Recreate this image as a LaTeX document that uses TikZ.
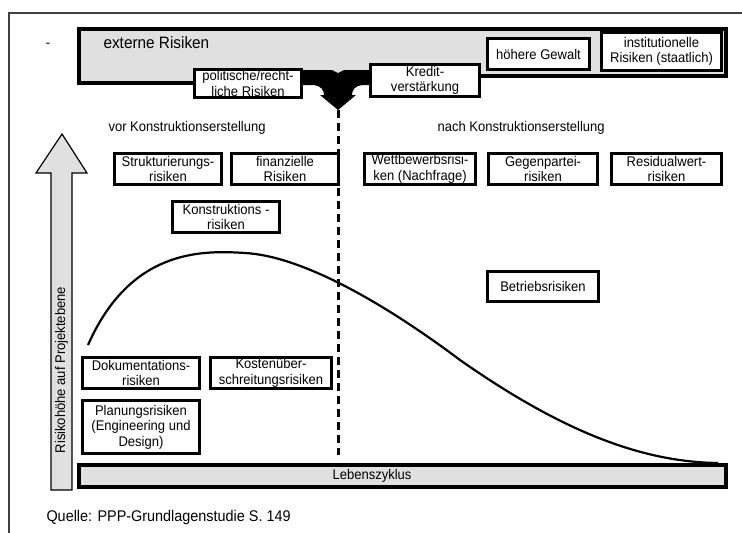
\documentclass[tikz,border=0pt]{standalone}
\usepackage{fontspec}
\setmainfont{Liberation Sans}[FakeStretch=0.93]
\usetikzlibrary{calc}
\definecolor{barfill}{gray}{0.88}
\definecolor{framegray}{gray}{0.25}

\begin{document}
\begin{tikzpicture}[x=1pt,y=-1pt,
	every node/.style={font=\fontsize{14}{15.5}\selectfont},
	riskbox/.style={draw, line width=3.5pt, fill=white, align=center, inner sep=1pt, minimum height=31pt},
	barbox/.style={draw, line width=3.5pt, fill=barfill}]
	\useasboundingbox (0,0) rectangle (742,533);
	\draw[framegray, line width=1.5pt] (9,533) -- (9,13) -- (742,13);
	\node (dash) at (48,45) {-};
	\draw[barbox] (79,29) -- (726,29) -- (726,76) -- (420,76) -- (420,83) -- (79,83) -- cycle;
	\node[anchor=west, font=\fontsize{16.5}{18}\selectfont] (extern) at (100,43) {externe Risiken};
	\fill (303,70) -- (332,70) -- (338,73) -- (344,70) -- (372,70) -- (372,85) -- (362,85)
		.. controls (355,86) and (352,90) .. (352,95) -- (356,95) -- (338,110) -- (320,95) -- (324,95)
		.. controls (324,90) and (321,86) .. (314,85) -- (303,85) -- cycle;
	\coordinate (tip) at (338,110);
	\coordinate (bottom) at (338,455);
	\draw[line width=3pt, dash pattern=on 8pt off 5pt] (tip) -- (bottom);
	\node[riskbox, minimum width=107pt, minimum height=24pt] (polit) at (248,83.5) {politische/recht-\\liche Risiken};
	\node[riskbox, minimum width=109pt, minimum height=32pt] (kredit) at (425,80.5) {Kredit-\\verstärkung};
	\node[riskbox, minimum width=102pt] (gewalt) at (538.5,54) {höhere Gewalt};
	\node[riskbox, minimum width=120pt, minimum height=38pt] (instit) at (661.5,51.5) {institutionelle\\Risiken (staatlich)};
	\node[anchor=west] (vor) at (105,128) {vor Konstruktionserstellung};
	\node[anchor=west] (nach) at (434,128) {nach Konstruktionserstellung};
	\node[riskbox, minimum width=107pt] (strukt) at (168,169) {Strukturierungs-\\risiken};
	\node[riskbox, minimum width=107pt] (finanz) at (285,169) {finanzielle\\Risiken};
	\node[riskbox, minimum width=111pt] (wettb) at (420,169) {Wettbewerbsrisi-\\ken (Nachfrage)};
	\node[riskbox, minimum width=109pt] (gegen) at (543,169) {Gegenpartei-\\risiken};
	\node[riskbox, minimum width=110pt] (resid) at (666.5,169) {Residualwert-\\risiken};
	\node[riskbox, minimum width=107pt] (konstr) at (226,217) {Konstruktions -\\risiken};
	\node[riskbox, minimum width=111pt, minimum height=30pt] (betrieb) at (543,286.5) {Betriebsrisiken};
	\draw[line width=2.2pt] (88,345) .. controls (130,250) and (200,250) .. (245,253)
		.. controls (300,256) and (380,300) .. (460,360)
		.. controls (560,430) and (640,462) .. (718,463);
	\node[riskbox, minimum width=117pt] (doku) at (141,373) {Dokumentations-\\risiken};
	\node[riskbox, minimum width=121pt] (kosten) at (271,373) {Kostenüber-\\schreitungsrisiken};
	\node[riskbox, minimum width=117pt, minimum height=53pt] (planung) at (141,427) {Planungsrisiken\\(Engineering und\\Design)};
	\draw[barbox] (79,465) rectangle (726,487);
	\node (lebens) at (372,476) {Lebenszyklus};
	\draw[line width=1.2pt, fill=barfill] (51,490) -- (51,173) -- (36,173) -- (62,134) -- (87,173) -- (72,173) -- (72,490) -- cycle;
	\node[rotate=90] (hoehe) at (61.5,370) {Risikohöhe auf Projektebene};
	\node[anchor=west, font=\fontsize{15.5}{17}\selectfont] (quelle) at (43,517) {Quelle: PPP-Grundlagenstudie S. 149};
\end{tikzpicture}
\end{document}
